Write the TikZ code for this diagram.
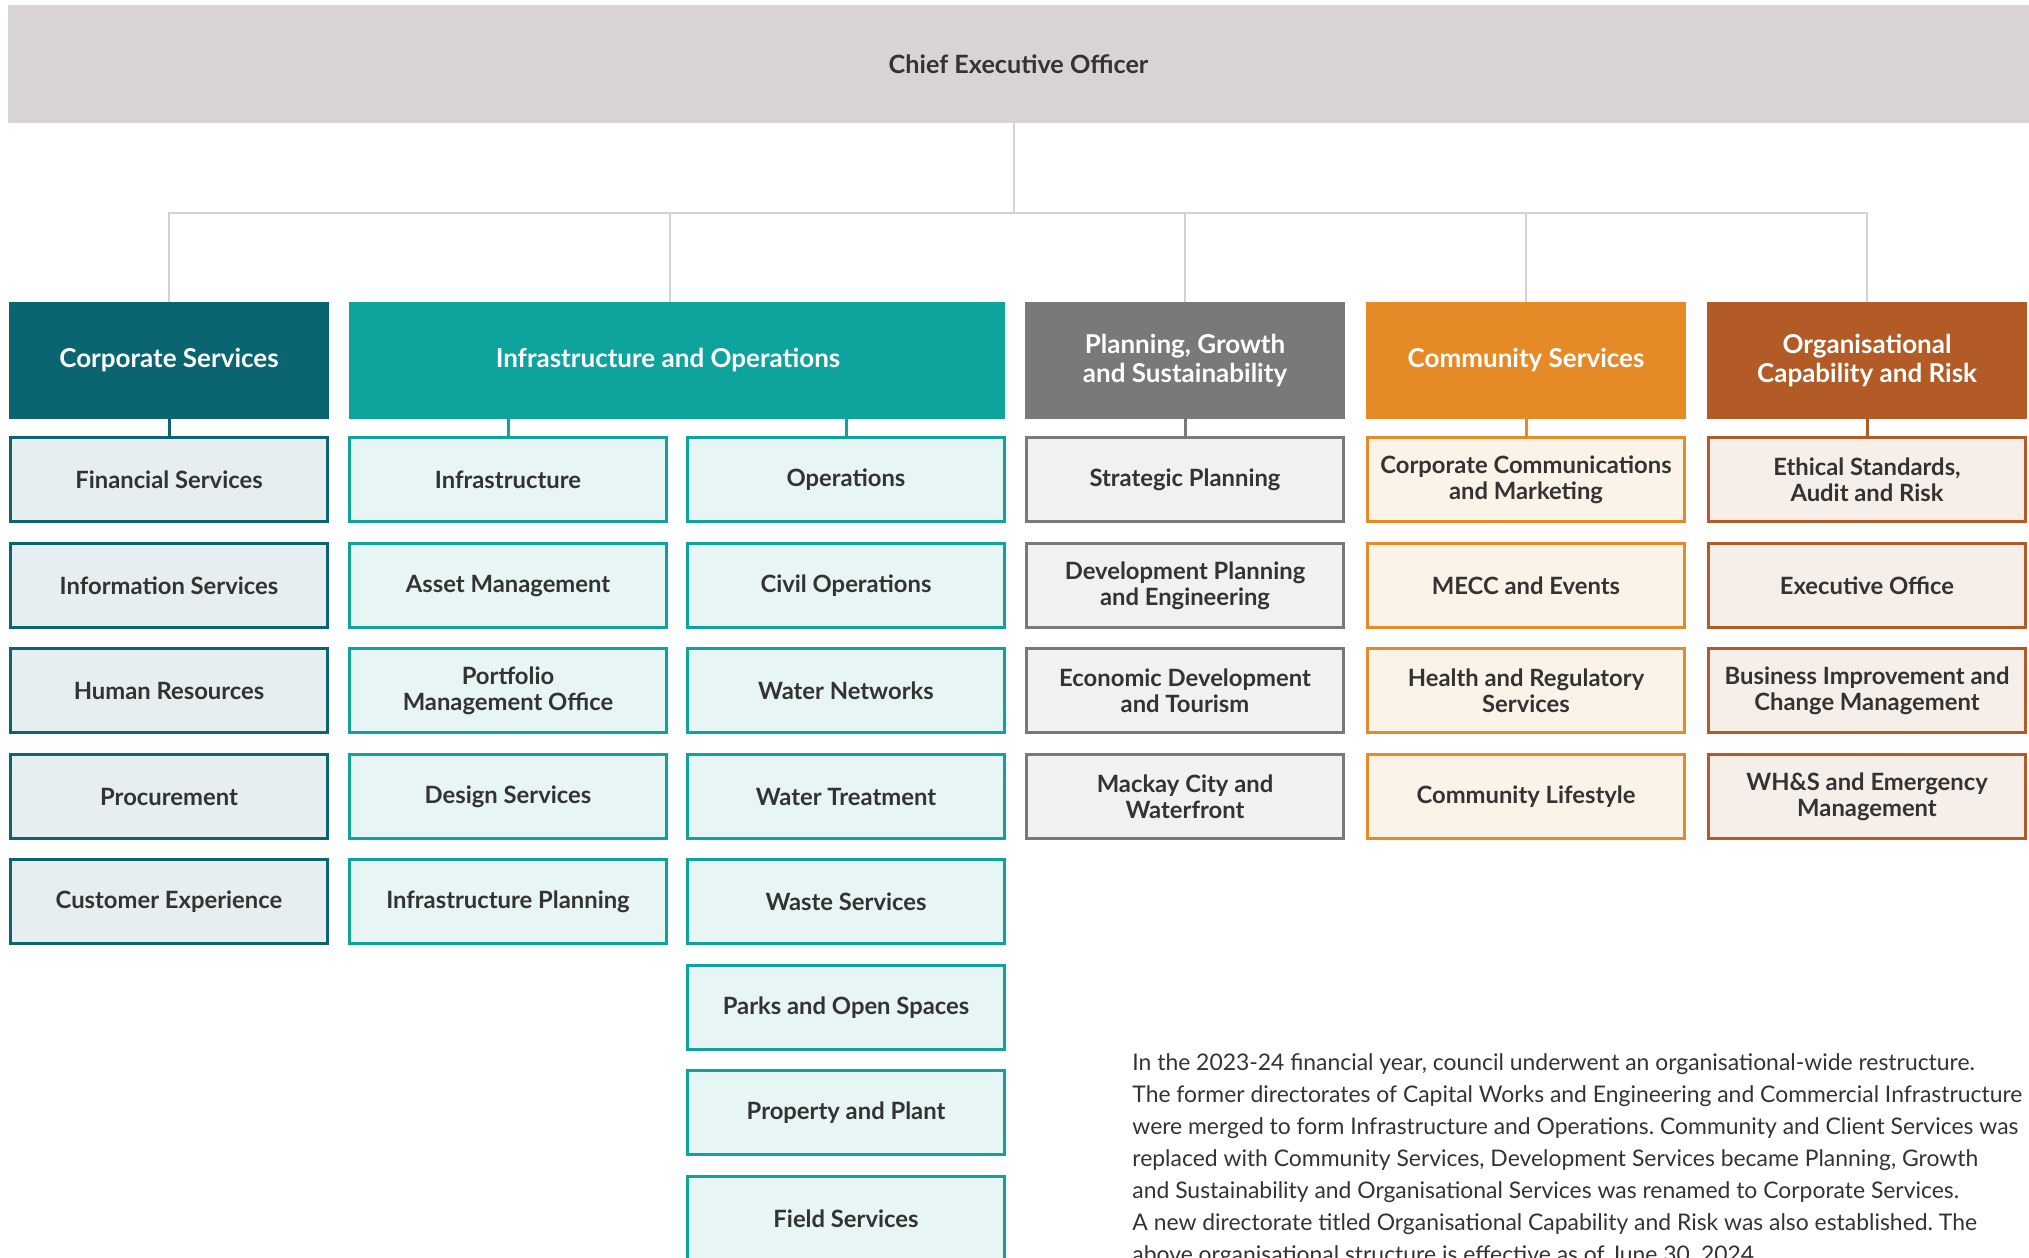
\documentclass[tikz,border=0pt]{standalone}
\usepackage{fontspec}
\setmainfont{Lato}
\definecolor{corpD}{HTML}{0A6570}
\definecolor{corpL}{HTML}{E6EEEF}
\definecolor{infD}{HTML}{0FA39E}
\definecolor{infL}{HTML}{E7F5F4}
\definecolor{plaD}{HTML}{7A7879}
\definecolor{plaL}{HTML}{F1F1F1}
\definecolor{comD}{HTML}{E68A27}
\definecolor{comL}{HTML}{FCF3E8}
\definecolor{orgD}{HTML}{B35B27}
\definecolor{orgL}{HTML}{F6EEE9}
\definecolor{ceoF}{HTML}{D8D4D3}
\definecolor{busC}{HTML}{D3D3D3}
\definecolor{txt}{HTML}{333333}
\tikzset{
  subbox/.style={rectangle, inner sep=0pt, align=center, text=txt, line width=1.5pt,
    minimum width=158.5pt, minimum height=42pt,
    font=\fontsize{11.9}{13}\selectfont\bfseries},
  corpbox/.style={subbox, draw=corpD, fill=corpL},
  infbox/.style={subbox, draw=infD, fill=infL},
  plabox/.style={subbox, draw=plaD, fill=plaL},
  combox/.style={subbox, draw=comD, fill=comL},
  orgbox/.style={subbox, draw=orgD, fill=orgL},
  headbox/.style={rectangle, inner sep=0pt, align=center, text=white,
    minimum width=160pt, minimum height=58.5pt,
    font=\fontsize{13}{14.3}\selectfont\bfseries},
  ceobox/.style={rectangle, inner sep=0pt, fill=ceoF, text=txt,
    minimum width=1010.5pt, minimum height=59pt,
    font=\fontsize{12.6}{14}\selectfont\bfseries},
  busline/.style={draw=busC, line width=1pt},
  tie/.style={line width=1.5pt},
}
\begin{document}
\begin{tikzpicture}[x=0.5pt,y=-0.5pt]
\useasboundingbox (0,0) rectangle (2029,1258);
\fill[white] (0,0) rectangle (2029,1258);

% CEO
\node[ceobox] (ceo) at (1018.5,64) {Chief Executive Officer};

% Headers
\node[headbox, fill=corpD] (corp) at (169,360.5) {Corporate Services};
\node[headbox, fill=infD, minimum width=328pt] (inf) at (677,360.5) {\kern-9pt Infrastructure and Operations};
\node[headbox, fill=plaD] (pla) at (1185,360.5) {Planning, Growth\\and Sustainability};
\node[headbox, fill=comD] (com) at (1526,360.5) {Community Services};
\node[headbox, fill=orgD] (org) at (1867,360.5) {Organisational\\Capability and Risk};

% Bus
\coordinate (j) at (1014,213);
\draw[busline] (ceo.south -| j) -- (j);
\draw[busline] (corp.north) |- (j);
\draw[busline] (org.north) |- (j);
\draw[busline] ([xshift=-3.5pt]inf.north) -- ([xshift=-3.5pt]inf.north |- j);
\draw[busline] (pla.north) -- (pla.north |- j);
\draw[busline] (com.north) -- (com.north |- j);

% Corporate Services
\node[corpbox] (c1) at (169,479.6) {Financial Services};
\node[corpbox] (c2) at (169,585.7) {Information Services};
\node[corpbox] (c3) at (169,690.5) {Human Resources};
\node[corpbox] (c4) at (169,796.6) {Procurement};
\node[corpbox] (c5) at (169,901.4) {Customer Experience};

% Infrastructure
\node[infbox] (i1) at (508,479.6) {Infrastructure};
\node[infbox] (i2) at (508,585.7) {Asset Management};
\node[infbox] (i3) at (508,690.5) {Portfolio\\Management Office};
\node[infbox] (i4) at (508,796.6) {Design Services};
\node[infbox] (i5) at (508,901.4) {Infrastructure Planning};

% Operations
\node[infbox] (o1) at (846,479.6) {Operations};
\node[infbox] (o2) at (846,585.7) {Civil Operations};
\node[infbox] (o3) at (846,690.5) {Water Networks};
\node[infbox] (o4) at (846,796.6) {Water Treatment};
\node[infbox] (o5) at (846,901.4) {Waste Services};
\node[infbox] (o6) at (846,1007.5) {Parks and Open Spaces};
\node[infbox] (o7) at (846,1112.3) {Property and Plant};
\node[infbox] (o8) at (846,1218.5) {Field Services};

% Planning
\node[plabox] (p1) at (1185,479.6) {Strategic Planning};
\node[plabox] (p2) at (1185,585.7) {Development Planning\\and Engineering};
\node[plabox] (p3) at (1185,690.5) {Economic Development\\and Tourism};
\node[plabox] (p4) at (1185,796.6) {Mackay City and\\Waterfront};

% Community
\node[combox] (m1) at (1526,479.6) {Corporate Communications\\and Marketing};
\node[combox] (m2) at (1526,585.7) {MECC and Events};
\node[combox] (m3) at (1526,690.5) {Health and Regulatory\\Services};
\node[combox] (m4) at (1526,796.6) {Community Lifestyle};

% Organisational
\node[orgbox] (g1) at (1867,479.6) {Ethical Standards,\\Audit and Risk};
\node[orgbox] (g2) at (1867,585.7) {Executive Office};
\node[orgbox] (g3) at (1867,690.5) {Business Improvement and\\Change Management};
\node[orgbox] (g4) at (1867,796.6) {WH\&S and Emergency\\Management};

% Ties
\draw[tie, corpD] (corp.south) -- (c1.north);
\draw[tie, infD] (inf.south -| i1) -- (i1.north);
\draw[tie, infD] (inf.south -| o1) -- (o1.north);
\draw[tie, plaD] (pla.south) -- (p1.north);
\draw[tie, comD] (com.south) -- (m1.north);
\draw[tie, orgD] (org.south) -- (g1.north);

% Note
\node[anchor=north west, inner sep=0pt, align=left, text=txt,
  font=\fontsize{11.45}{16}\selectfont\frenchspacing] (note) at (1132,1053) {In the 2023-24 financial year, council underwent an organisational-wide restructure.\\
The former directorates of Capital Works and Engineering and Commercial Infrastructure\\
were merged to form Infrastructure and Operations. Community and Client Services was\\
replaced with Community Services, Development Services became Planning, Growth\\
and Sustainability and Organisational Services was renamed to Corporate Services.\\
A new directorate titled Organisational Capability and Risk was also established. The\\
above organisational structure is effective as of June 30, 2024.};
\end{tikzpicture}
\end{document}
